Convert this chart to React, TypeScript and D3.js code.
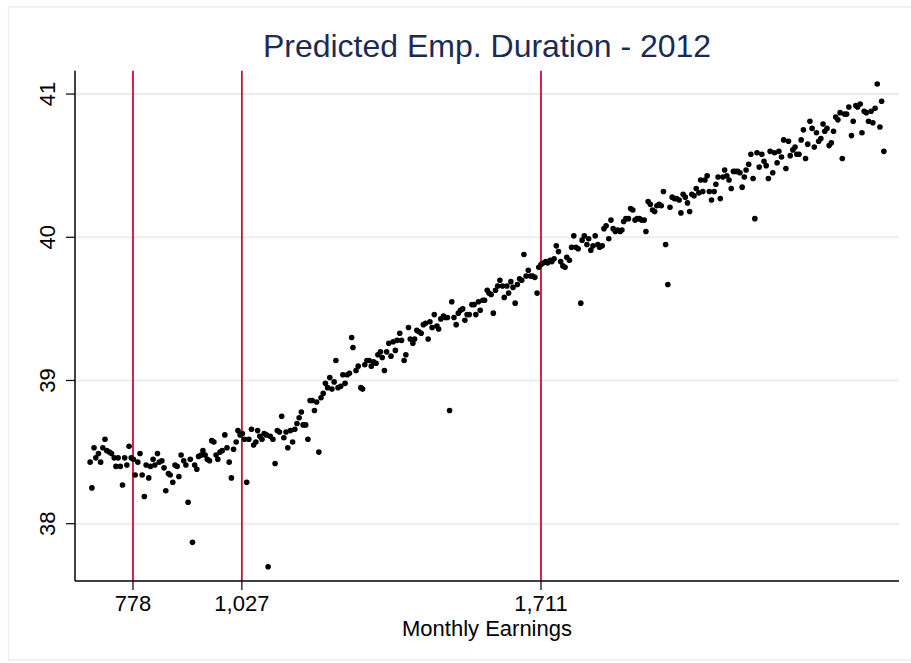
import React from 'react';
import * as d3 from 'd3';

const earnings = [
  680,684,689,693,699,704,709,714,718,724,729,735,739,744,749,754,759,764,769,774,
  779,783,789,794,799,804,808,814,818,824,828,834,838,844,849,853,859,863,869,874,
  879,883,888,894,899,904,909,914,919,924,928,934,938,943,948,953,958,963,968,972,
  977,982,988,993,998,1003,1008,1014,1018,1023,1028,1033,1038,1043,1049,1054,1059,1063,1068,1073,
  1078,1083,1087,1092,1098,1103,1108,1113,1118,1123,1128,1132,1138,1143,1148,1153,1158,1163,1167,1173,
  1178,1183,1188,1193,1198,1203,1208,1213,1218,1223,1228,1233,1238,1242,1247,1253,1258,1263,1268,1273,
  1278,1281,
  1288,1293,1299,1303,1308,1313,1318,1323,1328,1334,1338,1344,1348,1353,1358,1363,1368,1373,1378,1382,
  1388,1392,1398,1402,1408,1412,1418,1422,1427,1432,1437,1442,1447,1453,1457,1462,1467,1473,1477,1482,
  1488,1492,1497,1502,1507,1512,1517,1522,1527,1532,1537,1542,1547,1553,1558,1562,1568,1572,1578,1582,
  1588,1592,
  1597,1602,1607,1612,1617,1623,1627,1633,1637,1642,1647,1652,1657,1662,1667,1672,1677,1682,1687,1692,
  1697,1702,1706,1711,1716,1722,1726,1732,1736,1741,1746,1751,1756,1761,1766,1770,1776,1781,1786,1791,
  1796,1802,1805,1810,1816,1820,1825,1830,1835,1841,1845,1851,1855,1860,1866,1871,1876,1881,1886,1892,
  1896,1900,
  1905,1911,1916,1921,1926,1931,1936,1941,1947,1951,1956,1961,1966,1971,1976,1981,1986,1991,1996,2001,
  2006,2011,2016,2021,2027,2031,2036,2041,2046,2051,2056,2061,2066,2072,2076,2081,2086,2091,2096,2101,
  2107,2111,2116,2121,2127,2131,2136,2141,2146,2151,2156,2161,2166,2171,2176,2180,2186,2191,2196,2200,
  2205,2210,
  2216,2221,2226,2231,2235,2241,2245,2251,2255,2261,2266,2271,2277,2281,2287,2292,2296,2301,2306,2311,
  2316,2321,2326,2331,2336,2341,2346,2351,2356,2360,2365,2370,2375,2380,2385,2390,2395,2400,2405,2410,
  2415,2421,2425,2431,2435,2441,2445,2450,2455,2460,2466,2470,2475,2480,2486,2490,2495,
];

const duration = [
  38.43,38.25,38.53,38.46,38.49,38.43,38.53,38.59,38.51,38.50,38.49,38.46,38.40,38.46,38.40,38.27,38.46,38.41,38.54,38.46,
  38.45,38.34,38.43,38.49,38.34,38.19,38.41,38.32,38.40,38.45,38.41,38.49,38.43,38.44,38.39,38.23,38.35,38.34,38.29,38.41,
  38.40,38.33,38.48,38.44,38.41,38.15,38.45,37.87,38.41,38.38,38.47,38.48,38.51,38.48,38.45,38.44,38.58,38.57,38.48,38.45,
  38.50,38.51,38.62,38.53,38.43,38.32,38.52,38.57,38.65,38.62,38.63,38.59,38.29,38.59,38.66,38.55,38.57,38.65,38.61,38.59,
  38.63,38.62,37.70,38.61,38.59,38.42,38.65,38.64,38.75,38.60,38.64,38.53,38.65,38.57,38.66,38.70,38.74,38.78,38.69,38.69,
  38.59,38.86,38.86,38.79,38.85,38.50,38.88,38.91,38.98,38.95,39.02,38.94,38.99,39.14,38.95,38.96,39.04,38.98,39.04,39.05,
  39.30,39.23,
  39.07,39.10,38.95,38.94,39.11,39.14,39.14,39.10,39.13,39.12,39.18,39.20,39.16,39.07,39.20,39.26,39.17,39.27,39.21,39.28,
  39.33,39.28,39.14,39.18,39.37,39.29,39.26,39.29,39.35,39.34,39.33,39.39,39.40,39.29,39.41,39.37,39.46,39.38,39.36,39.43,
  39.45,39.44,39.44,38.79,39.55,39.44,39.39,39.47,39.49,39.50,39.42,39.46,39.46,39.53,39.53,39.46,39.55,39.49,39.56,39.56,
  39.63,39.61,
  39.60,39.47,39.63,39.66,39.70,39.66,39.58,39.66,39.61,39.69,39.65,39.54,39.67,39.71,39.70,39.88,39.73,39.77,39.73,39.73,
  39.72,39.61,39.79,39.81,39.82,39.83,39.82,39.84,39.83,39.85,39.94,39.90,39.83,39.80,39.79,39.86,39.84,39.93,40.01,39.93,
  39.92,39.54,39.98,40.01,39.95,39.99,39.91,39.94,40.01,39.95,39.93,39.94,40.06,40.08,39.99,40.12,40.06,40.04,40.05,40.04,
  40.05,40.11,
  40.13,40.13,40.20,40.19,40.12,40.13,40.13,40.12,40.12,40.04,40.25,40.23,40.19,40.18,40.22,40.23,40.22,40.32,39.95,39.67,
  40.21,40.28,40.27,40.27,40.26,40.17,40.30,40.28,40.24,40.18,40.30,40.29,40.34,40.31,40.40,40.32,40.40,40.43,40.32,40.26,
  40.32,40.37,40.42,40.27,40.42,40.47,40.43,40.40,40.34,40.46,40.46,40.46,40.45,40.35,40.42,40.47,40.51,40.58,40.41,40.13,
  40.59,40.49,
  40.58,40.53,40.50,40.41,40.60,40.45,40.59,40.52,40.60,40.56,40.68,40.48,40.67,40.57,40.61,40.63,40.58,40.58,40.68,40.75,
  40.55,40.65,40.81,40.76,40.63,40.73,40.67,40.69,40.79,40.74,40.76,40.64,40.66,40.74,40.84,40.82,40.87,40.55,40.86,40.86,
  40.91,40.71,40.81,40.92,40.91,40.93,40.73,40.88,40.87,40.81,40.88,40.80,40.90,41.07,40.77,40.95,40.60,
];

const cutoffs = [778, 1027, 1711];
const yTicks = [38, 39, 40, 41];
const titleText = 'Predicted Emp. Duration - 2012';
const xTitle = 'Monthly Earnings';

const FONT = '"Liberation Sans", Arial, Helvetica, sans-serif';

export default function App() {
  const W = 911, H = 663;
  const plotLeft = 75, plotRight = 899, plotTop = 70.7, plotBottom = 581;
  const x = d3.scaleLinear().domain([645.4, 2529.7]).range([plotLeft, plotRight]);
  const y = d3.scaleLinear().domain([37.6, 41.163]).range([plotBottom, plotTop]);
  const fmt = d3.format(',');
  const pts = earnings.map((e, i) => [e, duration[i]] as [number, number]);

  return (
    <svg width={W} height={H} style={{ position: 'absolute', left: 0, top: 0, background: '#fff' }}
      fontFamily={FONT}>
      <rect x={8.5} y={7} width={920} height={653} fill="#fff" stroke="#e9eef0" strokeWidth={1.5} />
      {yTicks.map(t => (
        <line key={'g' + t} x1={plotLeft} x2={plotRight} y1={y(t)} y2={y(t)} stroke="#e7eff2" strokeWidth={2} />
      ))}
      {cutoffs.map(c => (
        <line key={'c' + c} x1={x(c)} x2={x(c)} y1={plotTop} y2={plotBottom} stroke="#c8103a" strokeWidth={1.8} />
      ))}
      {pts.map((p, i) => (
        <circle key={i} cx={x(p[0])} cy={y(p[1])} r={2.8} fill="#000" />
      ))}
      <line x1={plotLeft} x2={plotLeft} y1={plotTop} y2={plotBottom} stroke="#000" strokeWidth={1.5} />
      <line x1={plotLeft} x2={plotRight} y1={plotBottom} y2={plotBottom} stroke="#000" strokeWidth={1.5} />
      {yTicks.map(t => (
        <g key={'yt' + t}>
          <line x1={plotLeft - 9} x2={plotLeft} y1={y(t)} y2={y(t)} stroke="#000" strokeWidth={1.2} />
          <text transform={`translate(${plotLeft - 20},${y(t)}) rotate(-90)`} textAnchor="middle"
            fontSize={22} fill="#000">{t}</text>
        </g>
      ))}
      {cutoffs.map(c => (
        <g key={'xt' + c}>
          <line x1={x(c)} x2={x(c)} y1={plotBottom} y2={plotBottom + 9} stroke="#000" strokeWidth={1.2} />
          <text x={x(c)} y={plotBottom + 30} textAnchor="middle" fontSize={22} fill="#000">{fmt(c)}</text>
        </g>
      ))}
      <text x={(plotLeft + plotRight) / 2} y={636} textAnchor="middle" fontSize={22} fill="#000">{xTitle}</text>
      <text x={(plotLeft + plotRight) / 2} y={57} textAnchor="middle" fontSize={32} fill="#1c2b52">{titleText}</text>
    </svg>
  );
}
